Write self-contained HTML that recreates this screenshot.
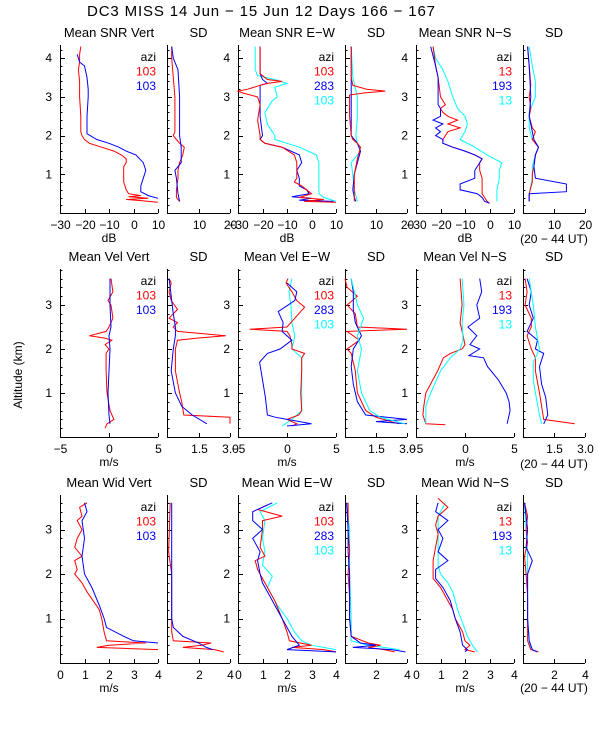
<!DOCTYPE html>
<html><head><meta charset="utf-8"><style>
html,body{margin:0;padding:0;background:#fff;}
svg{display:block;font-family:"Liberation Sans",sans-serif;}
</style></head><body>
<svg id="chart" width="600" height="750" viewBox="0 0 600 750" xmlns="http://www.w3.org/2000/svg">
<rect x="0" y="0" width="600" height="750" fill="#fff"/>
<text x="87" y="16" font-size="15" textLength="348">DC3 MISS  14 Jun − 15 Jun 12 Days 166 − 167</text>
<text transform="translate(22,375) rotate(-90)" text-anchor="middle" font-size="12">Altitude (km)</text>
</svg>
<script>
// ---------- Row 1: SNR (dB) ----------
const snrVertRedAlt=[4.3,4.1,3.9,3.7,3.4,3.0,2.5,2.1,2.0,1.9,1.8,1.7,1.6,1.5,1.4,1.3,1.2,1.0,0.8,0.6,0.5,0.45,0.42,0.38,0.35,0.32,0.28];
const snrVertRedVal=[-21.5,-22,-22,-22.5,-22,-22,-21.5,-21.5,-21,-20,-18,-13,-8,-5,-3,-3,-4,-4,-4,-3,-2,3,-2,6,-3,3,10];
const snrVertBlueAlt=[4.1,3.9,3.8,3.5,3.2,3.0,2.5,2.05,1.9,1.8,1.7,1.6,1.5,1.3,1.1,0.9,0.7,0.55,0.45,0.38];
const snrVertBlueVal=[-23,-22,-20,-19,-18.5,-18.5,-19,-19,-15,-10,-6,-3,1,4,5,4,3,3,6,10];
const snrVertSdRedAlt=[4.3,4.0,3.5,3.0,2.5,2.1,2.0,1.9,1.8,1.7,1.5,1.3,1.1,0.9,0.6,0.4,0.3];
const snrVertSdRedVal=[1.5,1.5,2,2.5,2.5,2.5,2,3,4,5.5,5,4,3.5,3.5,3,3,4];
const snrVertSdBlueAlt=[4.3,4.0,3.7,3.0,2.5,2.0,1.7,1.3,1.1,0.9,0.5,0.3];
const snrVertSdBlueVal=[1.5,2,3.5,4,4,4,4.5,4.5,2.5,3,3.5,4];

const snrEWRedAlt=[4.3,3.6,3.45,3.4,3.35,3.3,3.2,3.15,3.1,3.0,2.8,2.4,2.0,1.9,1.8,1.7,1.5,1.3,1.1,0.9,0.8,0.7,0.6,0.5,0.4,0.35,0.3,0.28];
const snrEWRedVal=[-21,-21,-18,-12,-18,-21,-26,-30,-28,-22,-21,-22,-21,-21,-19,-12,-7,-6,-6,-6,-7,-4,-2,0,-5,5,-3,10];
const snrEWBlueAlt=[4.3,3.6,3.45,3.35,3.3,3.0,2.5,2.0,1.9,1.8,1.7,1.5,1.3,1.1,0.9,0.7,0.6,0.5,0.42,0.38,0.33,0.3];
const snrEWBlueVal=[-21,-21,-20,-18,-21,-21,-21,-20,-21,-19,-12,-5,-4,-6,-5,-5,-2,-1,-8,0,-5,9];
const snrEWCyanAlt=[4.3,3.7,3.55,3.45,3.35,3.25,3.0,2.9,2.6,2.3,2.0,1.9,1.8,1.7,1.5,1.3,1.0,0.7,0.5,0.4,0.3];
const snrEWCyanVal=[-23,-23,-22,-15,-10,-15,-14,-16,-19,-18,-15,-15,-10,-5,2,3,3,3,3,5,10];
const snrEWSdRedAlt=[4.3,3.5,3.3,3.2,3.15,3.1,3.05,2.5,2.0,1.9,1.8,1.7,1.4,1.0,0.6,0.4,0.3];
const snrEWSdRedVal=[2,2,2.5,7,13,6,1.5,1.5,2,2.5,4,5,4,3,3,3,3];
const snrEWSdBlueAlt=[4.3,3.5,3.0,2.0,1.8,1.6,1.3,1.0,0.6,0.4,0.3];
const snrEWSdBlueVal=[2,2,2,2,4,5,4,3,2.5,3,3.5];
const snrEWSdCyanAlt=[4.3,3.5,3.0,2.5,2.0,1.8,1.6,1.3,1.0,0.6,0.3];
const snrEWSdCyanVal=[2,2.5,4,4,3.5,4,5,2,2.5,3,4];

const snrNSRedAlt=[4.3,3.8,3.5,3.0,2.8,2.7,2.6,2.5,2.4,2.3,2.2,2.1,2.0,1.9,1.8,1.7,1.6,1.5,1.4,1.3,1.1,0.9,0.7,0.5,0.4,0.3,0.25];
const snrNSRedVal=[-23,-22,-21,-20,-18,-20,-19,-17,-13,-17,-12,-17,-18,-19,-19,-15,-10,-6,-3,-4,-4,-3,-3,-3,-2,-1,0];
const snrNSBlueAlt=[4.3,3.8,3.5,3.0,2.8,2.7,2.5,2.4,2.3,2.2,2.1,2.0,1.9,1.8,1.7,1.6,1.5,1.4,1.3,1.1,0.9,0.75,0.6,0.5,0.4,0.3,0.25];
const snrNSBlueVal=[-24,-22,-21,-21,-21,-20,-20,-23,-19,-22,-20,-22,-19,-19,-15,-10,-6,-3,-4,-6,-6,-12,-12,-5,-3,-2,0];
const snrNSCyanAlt=[4.3,4.0,3.7,3.4,3.0,2.7,2.5,2.3,2.1,1.9,1.7,1.5,1.3,1.1,0.9,0.6,0.3];
const snrNSCyanVal=[-23,-22,-19,-17,-15,-13,-10,-9,-10,-12,-6,-1,5,4,4,3,3];
const snrNSSdRedAlt=[4.3,3.8,3.3,3.0,2.7,2.5,2.2,2.1,1.9,1.7,1.5,1.2,1.0,0.8,0.5,0.3];
const snrNSSdRedVal=[1.5,2,2.5,2,2.5,2,3,4,3,5,4,3.5,3,3,2,2];
const snrNSSdBlueAlt=[4.3,3.8,3.0,2.5,2.1,1.9,1.7,1.5,1.2,0.9,0.75,0.72,0.55,0.5,0.3];
const snrNSSdBlueVal=[1.5,2,2.5,2,3,3.5,5,4,3.5,4,14,14,14,2,2];
const snrNSSdCyanAlt=[4.3,3.8,3.4,3.0,2.6,2.2,1.9,1.7,1.5,1.2,0.9,0.5,0.3];
const snrNSSdCyanVal=[2,3,4,4,2,2,3,5,4,3,3,2,2];

// ---------- Row 2: Velocity (m/s) ----------
const velVertRedAlt=[3.6,3.3,3.1,3.0,2.7,2.5,2.4,2.3,2.25,2.2,2.1,2.0,1.9,1.5,1.0,0.6,0.4,0.3,0.2];
const velVertRedVal=[0.2,0.4,-0.1,0.2,0.4,0,-0.3,-2,-0.5,0.3,-0.4,0,-0.3,-0.3,-0.2,0.1,0.5,-0.2,-0.4];
const velVertBlueAlt=[3.6,3.0,2.5,2.3,2.0,1.5,1.0,0.5,0.3];
const velVertBlueVal=[0.1,0.1,0.2,0,0.1,0,-0.1,0,0.1];
const velVertSdRedAlt=[3.6,3.5,3.3,3.1,2.9,2.7,2.6,2.5,2.4,2.3,2.25,2.2,2.0,1.5,1.0,0.8,0.5,0.45,0.3];
const velVertSdRedVal=[0.1,0.2,0.1,0.2,0.5,0.1,0.5,0.3,0.5,2.8,1.5,0.5,0.4,0.4,0.6,0.7,0.8,3.0,3.0];
const velVertSdBlueAlt=[3.6,3.2,2.8,2.5,2.3,2.0,1.5,1.0,0.7,0.5,0.3];
const velVertSdBlueVal=[0.1,0.2,0.3,0.4,0.4,0.3,0.2,0.4,0.7,1.2,1.9];

const velEWRedAlt=[3.6,3.5,3.3,3.1,2.95,2.7,2.5,2.45,2.4,2.3,2.1,2.0,1.9,1.8,1.5,1.0,0.6,0.5,0.4,0.3,0.25];
const velEWRedVal=[0.1,-0.1,0.5,1,1.8,0.8,0,-3.8,0,0.3,0.5,0.5,1.8,1.5,1.5,1.4,1.5,1.2,0,1.0,0.5];
const velEWBlueAlt=[3.5,3.3,3.1,2.85,2.6,2.4,2.2,2.0,1.9,1.7,1.3,0.9,0.5,0.45,0.4,0.3,0.25];
const velEWBlueVal=[0,1,0.8,-0.9,-0.4,-0.5,0.5,-0.7,-2,-2.8,-2.5,-2.2,-2,-1.2,0,2.5,0];
const velEWCyanAlt=[3.6,3.3,3.0,2.6,2.3,2.0,1.8,1.5,1.0,0.6,0.4,0.25];
const velEWCyanVal=[0.5,0.2,0.4,0.5,0.8,0.5,1.5,1.5,1.5,1.5,0.5,-0.5];
const velEWSdRedAlt=[3.6,3.4,3.2,3.0,2.8,2.5,2.45,2.4,2.2,2.0,1.9,1.5,1.0,0.6,0.45,0.3];
const velEWSdRedVal=[0,0.1,0.6,0.1,0.5,0.6,3.0,0.1,0.7,0.1,0.3,0.5,0.6,1.0,1.5,2.6];
const velEWSdBlueAlt=[3.6,3.3,2.9,2.6,2.3,2.0,1.6,1.2,0.8,0.5,0.4,0.35,0.3];
const velEWSdBlueVal=[0.3,0.4,0.4,0.5,0.8,0.4,0.3,0.4,0.6,1.0,3.0,1.5,3.0];
const velEWSdCyanAlt=[3.6,3.0,2.7,2.3,2.0,1.5,1.0,0.6,0.45,0.3];
const velEWSdCyanVal=[0.3,0.6,0.9,0.6,0.8,0.6,0.8,1.2,1.7,2.9];

const velNSRedAlt=[3.6,3.0,2.6,2.4,2.1,2.0,1.9,1.8,1.5,1.0,0.7,0.5,0.3,0.28];
const velNSRedVal=[-0.5,-0.3,-0.5,-0.3,0,-0.3,-1.5,-2.2,-2.8,-4,-4.2,-4.3,-4.0,-2.0];
const velNSBlueAlt=[3.6,3.3,3.0,2.7,2.5,2.3,2.1,2.0,1.85,1.8,1.6,1.3,1.0,0.8,0.6,0.4,0.3];
const velNSBlueVal=[1.5,1.7,1.2,1.5,0.3,1.2,0.5,1.5,0.4,1.9,2.3,3.4,4.2,4.5,4.6,4.4,4.3];
const velNSCyanAlt=[3.6,3.0,2.6,2.2,2.0,1.8,1.5,1.0,0.7,0.5,0.3];
const velNSCyanVal=[-0.3,-0.1,-0.3,-0.2,-0.5,-1.5,-2.5,-3.5,-4,-4,-4];
const velNSSdRedAlt=[3.6,3.3,3.0,2.7,2.5,2.3,2.0,1.8,1.5,1.0,0.7,0.4,0.3];
const velNSSdRedVal=[0.1,0.2,0.1,0.4,0.4,0.2,0.4,0.6,0.6,0.8,0.9,1.0,2.5];
const velNSSdBlueAlt=[3.6,3.3,3.0,2.7,2.4,2.2,2.0,1.9,1.6,1.2,0.9,0.5,0.3];
const velNSSdBlueVal=[0.2,0.4,0.3,0.5,0.2,0.7,0.6,1.0,0.8,0.9,1.1,1.2,1.0];
const velNSSdCyanAlt=[3.6,3.0,2.5,2.0,1.7,1.3,1.0,0.5,0.3];
const velNSSdCyanVal=[0.3,0.5,0.6,0.8,0.5,0.5,0.6,0.8,0.9];

// ---------- Row 3: Width (m/s) ----------
const widVertRedAlt=[3.6,3.5,3.3,3.2,3.0,2.8,2.6,2.4,2.3,2.1,2.0,1.8,1.6,1.2,1.0,0.7,0.5,0.45,0.4,0.35,0.3];
const widVertRedVal=[1.1,0.8,0.9,0.7,0.9,0.7,0.6,0.9,0.6,0.7,0.6,0.9,1.1,1.6,1.7,1.8,1.9,3.5,2.0,1.5,4.0];
const widVertBlueAlt=[3.6,3.4,3.2,2.8,2.4,2.0,1.7,1.3,1.0,0.8,0.6,0.5,0.45];
const widVertBlueVal=[1.0,1.1,0.9,1.0,0.9,1.0,1.3,1.6,1.8,1.9,2.6,3.0,4.0];
const widVertSdRedAlt=[3.6,3.0,2.5,2.0,1.5,1.0,0.7,0.5,0.45,0.4,0.35,0.3,0.25];
const widVertSdRedVal=[0.2,0.15,0.1,0.3,0.3,0.3,0.3,0.4,2.8,2.2,1.0,3,3.6];
const widVertSdBlueAlt=[3.6,3.0,2.5,2.0,1.5,1.0,0.8,0.6,0.45,0.35,0.3];
const widVertSdBlueVal=[0.3,0.3,0.3,0.3,0.3,0.3,0.4,1.0,2.0,2.5,2.9];

const widEWRedAlt=[3.55,3.45,3.3,3.2,3.0,2.6,2.4,2.3,2.1,1.9,1.7,1.4,1.0,0.7,0.5,0.4,0.35,0.3,0.25];
const widEWRedVal=[1.2,0.8,1.8,1.0,1.0,0.9,1.1,0.7,0.8,1.0,1.2,1.5,1.8,2.0,2.1,3.0,2.2,3.5,4];
const widEWBlueAlt=[3.6,3.4,3.2,3.0,2.8,2.5,2.3,2.0,1.8,1.5,1.0,0.6,0.4,0.3,0.25];
const widEWBlueVal=[1.4,0.6,0.6,1.0,0.6,0.9,0.8,0.9,1.0,1.3,1.8,2.2,2.5,2.0,4];
const widEWCyanAlt=[3.6,3.4,3.2,2.8,2.5,2.2,1.95,1.7,1.3,1.0,0.7,0.5,0.4,0.3];
const widEWCyanVal=[1.6,0.9,1.1,1.0,1.1,1.0,1.4,1.2,1.6,2.0,2.3,2.6,3.0,4.0];
const widEWSdRedAlt=[3.6,3.0,2.5,2.0,1.5,1.0,0.6,0.45,0.4,0.35,0.3,0.25];
const widEWSdRedVal=[0.2,0.2,0.3,0.2,0.3,0.3,0.4,1.5,2.3,1.5,2.5,3.2];
const widEWSdBlueAlt=[3.6,3.0,2.5,2.0,1.5,1.0,0.6,0.45,0.4,0.35,0.3,0.25];
const widEWSdBlueVal=[0.1,0.2,0.2,0.3,0.3,0.3,0.4,1.0,2.0,0.5,3.0,3.9];
const widEWSdCyanAlt=[3.6,3.0,2.0,1.0,0.5,0.4,0.3];
const widEWSdCyanVal=[0.1,0.3,0.3,0.4,0.4,1.5,3.5];

const widNSRedAlt=[3.7,3.5,3.3,3.1,2.9,2.6,2.3,2.1,1.9,1.7,1.5,1.2,1.0,0.7,0.5,0.4,0.3,0.25];
const widNSRedVal=[0.9,1.3,0.9,0.8,0.9,0.8,0.7,0.7,0.7,1.0,1.2,1.5,1.6,1.9,2.0,2.2,2.0,2.4];
const widNSBlueAlt=[3.6,3.4,3.2,3.0,2.8,2.5,2.3,2.1,1.9,1.7,1.4,1.0,0.7,0.4,0.3,0.25];
const widNSBlueVal=[0.9,0.8,1.3,0.9,1.1,0.9,1.3,0.8,0.8,1.1,1.4,1.6,1.8,1.9,2.1,2.0];
const widNSCyanAlt=[3.6,3.3,3.0,2.6,2.2,2.0,1.8,1.6,1.2,0.9,0.6,0.4,0.25];
const widNSCyanVal=[1.2,0.9,0.9,0.9,0.9,1.0,1.3,1.5,1.7,1.9,2.1,2.3,2.5];
const widNSSdRedAlt=[3.6,3.3,3.0,2.7,2.4,2.0,1.5,1.0,0.5,0.3,0.25];
const widNSSdRedVal=[0.1,0.3,0.2,0.3,0.1,0.2,0.3,0.3,0.3,0.5,1.0];
const widNSSdBlueAlt=[3.6,3.3,3.0,2.6,2.3,2.0,1.5,1.0,0.5,0.3,0.25];
const widNSSdBlueVal=[0.1,0.2,0.3,0.2,0.6,0.3,0.3,0.3,0.4,0.6,0.9];
const widNSSdCyanAlt=[3.6,3.0,2.5,2.0,1.5,1.0,0.5,0.3];
const widNSSdCyanVal=[0.1,0.2,0.3,0.3,0.3,0.3,0.4,0.5];

// tick labels
const snrMeanTicks=[-30,-20,-10,0,10];
const snrSdTicks=[10,20];
const velMeanTicks=[-5,0,5];
const velSdTicks=[1.5,3.0];
const widMeanTicks=[0,1,2,3,4];
const widSdTicks=[2,4];
const altTicksRow1=[1,2,3,4];
const altTicksRow23=[1,2,3];

const RED='#ff0000',BLUE='#0000ff',CYAN='#00ffff';
const svg=document.getElementById('chart');
const NS='http://www.w3.org/2000/svg';
function mk(tag,attrs,parent){const e=document.createElementNS(NS,tag);for(const k in attrs)e.setAttribute(k,attrs[k]);(parent||svg).appendChild(e);return e;}

const rows=[
 {bottom:213,ppk:38.7,top:45,ticks:altTicksRow1,unit:'dB'},
 {bottom:437,ppk:44,top:269,ticks:altTicksRow23,unit:'m/s'},
 {bottom:663,ppk:44.5,top:495,ticks:altTicksRow23,unit:'m/s'}
];
const meanCols=[[60,158],[238,336],[416,514]];
const sdCols=[[167,230],[345,407],[523,585]];

function fmt(v){return (v<0?'−':'')+Math.abs(v);}
function fmtSd(v,dec){return dec?v.toFixed(1):String(v);}

function panel(ri,x0,x1,dmin,dmax,ticks,title,series,legend,isSd,dec,name){
 const r=rows[ri];
 const g=mk('g',{});
 
 
 const xs=v=>x0+(v-dmin)/(dmax-dmin)*(x1-x0);
 const ys=a=>r.bottom-a*r.ppk;
 // axes
 const ax=mk('path',{d:`M${x0+0.5},${r.top}V${r.bottom+0.5}H${x1}`,stroke:'#000','stroke-width':1,fill:'none'},g);
 
 
 // y ticks
 for(let a=0.2;r.bottom-a*r.ppk>r.top;a+=0.2){
  const y=Math.round(ys(a))+0.5;
  const major=Math.abs(a-Math.round(a))<0.01;
  mk('line',{x1:x0,x2:x0+(major?5:2.5),y1:y,y2:y,stroke:'#000','stroke-width':1},g);
 }
 if(!isSd){
  r.ticks.forEach(t=>{
   const tl=mk('text',{x:x0-8,y:ys(t)+4,'font-size':12,'text-anchor':'end'},g);
   tl.textContent=t;
   
   
  });
 }
 // x ticks
 ticks.forEach(t=>{
  const x=Math.round(xs(t))+0.5;
  mk('line',{x1:x,x2:x,y1:r.bottom,y2:r.bottom-4,stroke:'#000','stroke-width':1},g);
  const tl=mk('text',{x:x,y:r.bottom+16,'font-size':12,'text-anchor':'middle'},g);
  tl.textContent=isSd?fmtSd(t,dec):fmt(t);
  
  
 });
 if(!isSd){
  const ut=mk('text',{x:(x0+x1)/2,y:r.bottom+29,'font-size':12,'text-anchor':'middle'},g);
  ut.textContent=r.unit;
  
  
 }
 const tt=mk('text',{x:(x0+x1)/2,y:r.top-8,'font-size':13,'text-anchor':'middle'},g);
 tt.textContent=title;
 
 
 // series
 series.forEach(s=>{
  const pts=s.alt.map((a,i)=>xs(Math.max(dmin,Math.min(dmax,s.val[i]))).toFixed(1)+','+ys(a).toFixed(1)).join(' ');
  const pl=mk('polyline',{points:pts,fill:'none',stroke:s.c,'stroke-width':1},g);
  
  
 });
 if(legend){
  const lx=x1-2;let ly=r.top+16;
  const az=mk('text',{x:lx,y:ly,'font-size':12,'text-anchor':'end'},g);
  az.textContent='azi';
  
  
  legend.forEach(([lab,c])=>{
   ly+=14.5;
   const le=mk('text',{x:lx,y:ly,'font-size':12,'text-anchor':'end',fill:c},g);
   le.textContent=lab;
   
   
  });
 }
}
const S=(alt,val,c,n)=>({alt,val,c,n});
// Row 1
panel(0,60,158,-30,10,snrMeanTicks,'Mean SNR Vert',[S(snrVertRedAlt,snrVertRedVal,RED,'snr-vert-103-red'),S(snrVertBlueAlt,snrVertBlueVal,BLUE,'snr-vert-103-blue')],[['103',RED],['103',BLUE]],false,false,'panel-mean-snr-vert');
panel(0,167,230,0,20,snrSdTicks,'SD',[S(snrVertSdRedAlt,snrVertSdRedVal,RED,'sd-red'),S(snrVertSdBlueAlt,snrVertSdBlueVal,BLUE,'sd-blue')],null,true,false,'panel-sd-snr-vert');
panel(0,238,336,-30,10,snrMeanTicks,'Mean SNR E−W',[S(snrEWCyanAlt,snrEWCyanVal,CYAN,'snr-ew-cyan'),S(snrEWBlueAlt,snrEWBlueVal,BLUE,'snr-ew-blue'),S(snrEWRedAlt,snrEWRedVal,RED,'snr-ew-red')],[['103',RED],['283',BLUE],['103',CYAN]],false,false,'panel-mean-snr-ew');
panel(0,345,407,0,20,snrSdTicks,'SD',[S(snrEWSdCyanAlt,snrEWSdCyanVal,CYAN,'sd-cyan'),S(snrEWSdBlueAlt,snrEWSdBlueVal,BLUE,'sd-blue'),S(snrEWSdRedAlt,snrEWSdRedVal,RED,'sd-red')],null,true,false,'panel-sd-snr-ew');
panel(0,416,514,-30,10,snrMeanTicks,'Mean SNR N−S',[S(snrNSCyanAlt,snrNSCyanVal,CYAN,'snr-ns-cyan'),S(snrNSRedAlt,snrNSRedVal,RED,'snr-ns-red'),S(snrNSBlueAlt,snrNSBlueVal,BLUE,'snr-ns-blue')],[['13',RED],['193',BLUE],['13',CYAN]],false,false,'panel-mean-snr-ns');
panel(0,523,585,0,20,snrSdTicks,'SD',[S(snrNSSdCyanAlt,snrNSSdCyanVal,CYAN,'sd-cyan'),S(snrNSSdRedAlt,snrNSSdRedVal,RED,'sd-red'),S(snrNSSdBlueAlt,snrNSSdBlueVal,BLUE,'sd-blue')],null,true,false,'panel-sd-snr-ns');
// Row 2
panel(1,60,158,-5,5,velMeanTicks,'Mean Vel Vert',[S(velVertRedAlt,velVertRedVal,RED,'vel-vert-red'),S(velVertBlueAlt,velVertBlueVal,BLUE,'vel-vert-blue')],[['103',RED],['103',BLUE]],false,false,'panel-mean-vel-vert');
panel(1,167,230,0,3,velSdTicks,'SD',[S(velVertSdRedAlt,velVertSdRedVal,RED,'sd-red'),S(velVertSdBlueAlt,velVertSdBlueVal,BLUE,'sd-blue')],null,true,true,'panel-sd-vel-vert');
panel(1,238,336,-5,5,velMeanTicks,'Mean Vel E−W',[S(velEWCyanAlt,velEWCyanVal,CYAN,'vel-ew-cyan'),S(velEWRedAlt,velEWRedVal,RED,'vel-ew-red'),S(velEWBlueAlt,velEWBlueVal,BLUE,'vel-ew-blue')],[['103',RED],['283',BLUE],['103',CYAN]],false,false,'panel-mean-vel-ew');
panel(1,345,407,0,3,velSdTicks,'SD',[S(velEWSdRedAlt,velEWSdRedVal,RED,'sd-red'),S(velEWSdBlueAlt,velEWSdBlueVal,BLUE,'sd-blue'),S(velEWSdCyanAlt,velEWSdCyanVal,CYAN,'sd-cyan')],null,true,true,'panel-sd-vel-ew');
panel(1,416,514,-5,5,velMeanTicks,'Mean Vel N−S',[S(velNSRedAlt,velNSRedVal,RED,'vel-ns-red'),S(velNSBlueAlt,velNSBlueVal,BLUE,'vel-ns-blue'),S(velNSCyanAlt,velNSCyanVal,CYAN,'vel-ns-cyan')],[['13',RED],['193',BLUE],['13',CYAN]],false,false,'panel-mean-vel-ns');
panel(1,523,585,0,3,velSdTicks,'SD',[S(velNSSdRedAlt,velNSSdRedVal,RED,'sd-red'),S(velNSSdBlueAlt,velNSSdBlueVal,BLUE,'sd-blue'),S(velNSSdCyanAlt,velNSSdCyanVal,CYAN,'sd-cyan')],null,true,true,'panel-sd-vel-ns');
// Row 3
panel(2,60,158,0,4,widMeanTicks,'Mean Wid Vert',[S(widVertRedAlt,widVertRedVal,RED,'wid-vert-red'),S(widVertBlueAlt,widVertBlueVal,BLUE,'wid-vert-blue')],[['103',RED],['103',BLUE]],false,false,'panel-mean-wid-vert');
panel(2,167,230,0,4,widSdTicks,'SD',[S(widVertSdRedAlt,widVertSdRedVal,RED,'sd-red'),S(widVertSdBlueAlt,widVertSdBlueVal,BLUE,'sd-blue')],null,true,false,'panel-sd-wid-vert');
panel(2,238,336,0,4,widMeanTicks,'Mean Wid E−W',[S(widEWCyanAlt,widEWCyanVal,CYAN,'wid-ew-cyan'),S(widEWRedAlt,widEWRedVal,RED,'wid-ew-red'),S(widEWBlueAlt,widEWBlueVal,BLUE,'wid-ew-blue')],[['103',RED],['283',BLUE],['103',CYAN]],false,false,'panel-mean-wid-ew');
panel(2,345,407,0,4,widSdTicks,'SD',[S(widEWSdCyanAlt,widEWSdCyanVal,CYAN,'sd-cyan'),S(widEWSdRedAlt,widEWSdRedVal,RED,'sd-red'),S(widEWSdBlueAlt,widEWSdBlueVal,BLUE,'sd-blue')],null,true,false,'panel-sd-wid-ew');
panel(2,416,514,0,4,widMeanTicks,'Mean Wid N−S',[S(widNSCyanAlt,widNSCyanVal,CYAN,'wid-ns-cyan'),S(widNSRedAlt,widNSRedVal,RED,'wid-ns-red'),S(widNSBlueAlt,widNSBlueVal,BLUE,'wid-ns-blue')],[['13',RED],['193',BLUE],['13',CYAN]],false,false,'panel-mean-wid-ns');
panel(2,523,585,0,4,widSdTicks,'SD',[S(widNSSdCyanAlt,widNSSdCyanVal,CYAN,'sd-cyan'),S(widNSSdRedAlt,widNSSdRedVal,RED,'sd-red'),S(widNSSdBlueAlt,widNSSdBlueVal,BLUE,'sd-blue')],null,true,false,'panel-sd-wid-ns');

[243,468,692].forEach(y=>{
 const t=mk('text',{x:554,y:y,'font-size':12,'text-anchor':'middle'});
 t.textContent='(20 − 44 UT)';
 
 
});
</script>
</body></html>
